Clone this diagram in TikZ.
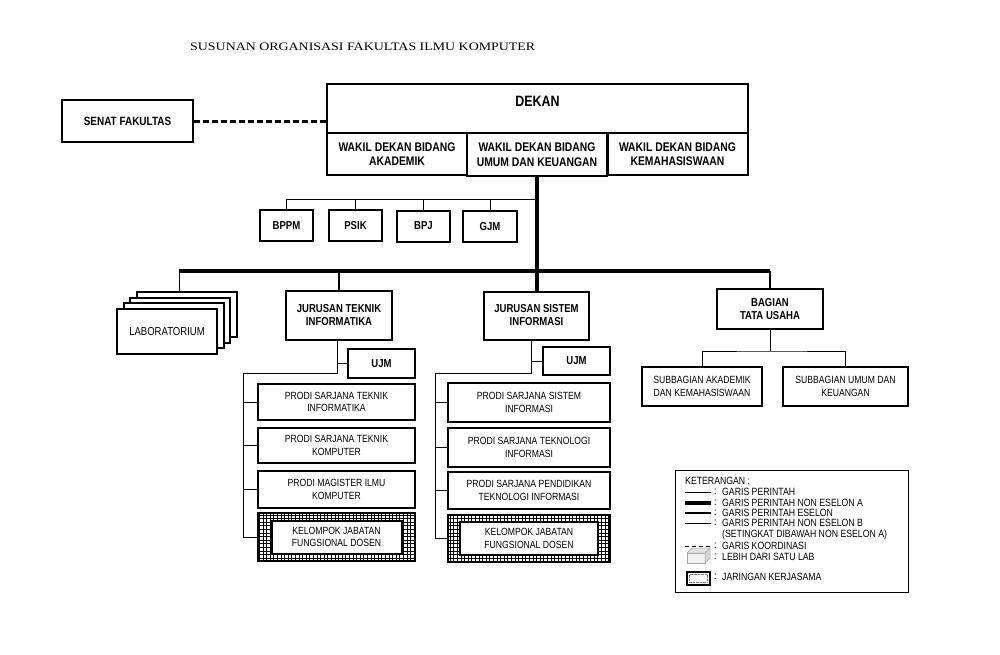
\documentclass[tikz,border=0pt]{standalone}
\usepackage{fontspec}
\setmainfont{Liberation Sans}
\newfontfamily\narrowsf{Liberation Sans}[FakeStretch=0.83]
\newfontfamily\judulfont{Liberation Serif}[FakeStretch=1.22]

\begin{document}
\begin{tikzpicture}[x=1pt,y=-1pt,
unit/.style={
	rectangle,draw=black,line width=2pt,fill=white,
	align=center,inner sep=1pt,
	font=\narrowsf\bfseries\fontsize{11.5}{13}\selectfont},
wakil/.style={unit,minimum width=140,minimum height=42,
	font=\narrowsf\bfseries\fontsize{12.5}{14.5}\selectfont},
staf/.style={unit,minimum width=53,minimum height=31},
prodi/.style={unit,font=\narrowsf\fontsize{10.4}{12.3}\selectfont},
labbox/.style={unit,minimum width=100,minimum height=45,
	font=\narrowsf\fontsize{11.5}{13}\selectfont},
jaringan/.style={rectangle,draw=black,line width=2pt},
perintah/.style={line width=0.9pt},
nonA/.style={line width=3.5pt},
eselon/.style={line width=2.8pt},
koord/.style={line width=3pt,dash pattern=on 6pt off 3pt},
legtext/.style={anchor=west,inner sep=0pt,font=\narrowsf\fontsize{10.5}{11}\selectfont}
]
\useasboundingbox (0,0) rectangle (1000,654);

% judul
\node[anchor=west,inner sep=0pt,font=\judulfont\fontsize{11.4}{13}\selectfont] (judul) at (190,47)
	{SUSUNAN ORGANISASI FAKULTAS ILMU KOMPUTER};

% pimpinan
\node[unit,minimum width=131,minimum height=42,font=\narrowsf\bfseries\fontsize{12}{14}\selectfont]
	(senat) at (127.5,121) {SENAT FAKULTAS};
\node[unit,minimum width=421,minimum height=49] (dekan) at (537.5,108.5) {};
\node[inner sep=0pt,font=\narrowsf\bfseries\fontsize{15}{16}\selectfont] (dekanlbl) at (537.5,101) {DEKAN};
\node[wakil] (wd1) at (397,154) {WAKIL DEKAN BIDANG\\AKADEMIK};
\node[wakil] (wd3) at (677.5,154) {WAKIL DEKAN BIDANG\\KEMAHASISWAAN};
\node[wakil,line width=2.5pt,minimum height=43] (wd2) at (537,154.5) {WAKIL DEKAN BIDANG\\UMUM DAN KEUANGAN};

% staf
\node[staf] (bppm) at (286.5,225.5) {BPPM};
\node[staf] (psik) at (355.5,225.5) {PSIK};
\node[staf] (bpj) at (423.5,226) {BPJ};
\node[staf,minimum width=54] (gjm) at (490,226.5) {GJM};

% laboratorium
\foreach \k in {3,2,1}
	\node[labbox] (lab\k) at ({167+6.5*\k},{331.5-5.7*\k}) {};
\node[labbox] (lab) at (167,331.5) {LABORATORIUM};

% jurusan
\node[unit,minimum width=106,minimum height=49] (jti) at (339,315.5) {JURUSAN TEKNIK\\INFORMATIKA};
\node[unit,minimum width=105,minimum height=48] (jsi) at (536.5,315.5) {JURUSAN SISTEM\\INFORMASI};
\node[unit,minimum width=106,minimum height=40] (btu) at (770,309) {BAGIAN\\TATA USAHA};

\node[unit,minimum width=67,minimum height=29] (ujm1) at (381.5,363.5) {UJM};
\node[unit,minimum width=67,minimum height=28] (ujm2) at (576.5,361) {UJM};

\node[prodi,minimum width=157,minimum height=36] (p1a) at (336.5,402) {PRODI SARJANA TEKNIK\\INFORMATIKA};
\node[prodi,minimum width=157,minimum height=35] (p1b) at (336.5,445.5) {PRODI SARJANA TEKNIK\\KOMPUTER};
\node[prodi,minimum width=157,minimum height=37] (p1c) at (336.5,489.5) {PRODI MAGISTER ILMU\\KOMPUTER};
\node[jaringan,minimum width=157,minimum height=48] (k1) at (336.5,537) {};
\begin{scope}
\clip (k1.north west) rectangle (k1.south east);
\draw[line width=0.35pt,step=3.6pt] (k1.north west) grid (k1.south east);
\end{scope}
\node[jaringan,minimum width=157,minimum height=48] (k1rim) at (k1) {};
\node[prodi,minimum width=130,minimum height=33] (k1in) at (k1) {KELOMPOK JABATAN\\FUNGSIONAL DOSEN};

\node[prodi,minimum width=162,minimum height=39] (p2a) at (529,402.5) {PRODI SARJANA SISTEM\\INFORMASI};
\node[prodi,minimum width=162,minimum height=39] (p2b) at (529,447.5) {PRODI SARJANA TEKNOLOGI\\INFORMASI};
\node[prodi,minimum width=162,minimum height=37] (p2c) at (529,490.5) {PRODI SARJANA PENDIDIKAN\\TEKNOLOGI INFORMASI};
\node[jaringan,minimum width=162,minimum height=47] (k2) at (529,538.5) {};
\begin{scope}
\clip (k2.north west) rectangle (k2.south east);
\draw[line width=0.35pt,step=3.6pt] (k2.north west) grid (k2.south east);
\end{scope}
\node[jaringan,minimum width=162,minimum height=47] (k2rim) at (k2) {};
\node[prodi,minimum width=138,minimum height=33] (k2in) at (k2) {KELOMPOK JABATAN\\FUNGSIONAL DOSEN};

\node[prodi,minimum width=120,minimum height=39] (sba) at (702,386.5) {SUBBAGIAN AKADEMIK\\DAN KEMAHASISWAAN};
\node[prodi,minimum width=125,minimum height=39] (sbu) at (845.5,386.5) {SUBBAGIAN UMUM DAN\\KEUANGAN};

% titik bantu garis
\coordinate (stafbus) at (537,199);
\coordinate (mainbus) at (537,271);
\coordinate (labtop) at (179,292);
\coordinate (jtispine) at (243,373);
\coordinate (jsispine) at (435,373);
\coordinate (tubus) at (770,351);

% garis
\draw[koord] (senat.east) -- (senat.east -| dekan.west);
\draw[nonA] (wd2.south) -- (wd2.south |- jsi.north);
\draw[perintah] (bppm.north) |- (stafbus);
\foreach \s in {psik,bpj,gjm}
	\draw[perintah] (\s.north) -- (\s.north |- stafbus);
\draw[nonA] (labtop |- mainbus) -- (btu.north |- mainbus);
\draw[perintah] (labtop) -- (labtop |- mainbus);
\draw[eselon] (jti.north |- mainbus) -- (jti.north);
\draw[eselon] (btu.north |- mainbus) -- (btu.north);

\draw[perintah] ([xshift=-2pt]jti.south) |- (ujm1.west);
\draw[perintah] ([xshift=-2pt]jti.south) |- (jtispine) -- (jtispine |- k1.west);
\foreach \p in {p1a,p1b,p1c,k1}
	\draw[perintah] (jtispine |- \p.west) -- (\p.west);

\draw[perintah] ([xshift=-5pt]jsi.south) |- (ujm2.west);
\draw[perintah] ([xshift=-5pt]jsi.south) |- (jsispine) -- (jsispine |- k2.west);
\foreach \p in {p2a,p2b,p2c,k2}
	\draw[perintah] (jsispine |- \p.west) -- (\p.west);

\draw[perintah] (btu.south) -- (tubus);
\draw[perintah] (sba.north) |- (tubus) -| (sbu.north);

% keterangan
\node[draw,line width=0.8pt,minimum width=233,minimum height=122,anchor=north west,inner sep=0pt] (ket) at (675,470) {};
\node[legtext] (kettitle) at (685,481) {KETERANGAN :};
\draw[perintah] (685,492) -- (711,492);
\draw[nonA] (685,503) -- (711,503);
\draw[eselon] (685,513) -- (711,513);
\draw[line width=0.6pt] (685,523) -- (711,523);
\draw[line width=1pt,dash pattern=on 4pt off 3pt] (685,546) -- (711,546);
\filldraw[fill=gray!12,draw=gray!70,line width=0.5pt] (687,553) rectangle (705,563);
\filldraw[fill=gray!22,draw=gray!70,line width=0.5pt] (687,553) -- (692,548) -- (710,548) -- (705,553) -- cycle;
\filldraw[fill=gray!32,draw=gray!70,line width=0.5pt] (705,553) -- (710,548) -- (710,558) -- (705,563) -- cycle;
\draw[line width=2pt] (687,572) rectangle (710,585);
\draw[gray,line width=0.4pt,densely dotted] (689.5,574.5) rectangle (707.5,582.5);
\foreach \y/\t in {492/GARIS PERINTAH,503/GARIS PERINTAH NON ESELON A,513/GARIS PERINTAH ESELON,
	523/GARIS PERINTAH NON ESELON B,546/GARIS KOORDINASI,557/LEBIH DARI SATU LAB,577/JARINGAN KERJASAMA}
	{\node[legtext] (ketc\y) at (714,\y) {:};
	\node[legtext] (ketx\y) at (722,\y) {\t};}
\node[legtext] (ketnote) at (722,535) {(SETINGKAT DIBAWAH NON ESELON A)};

\end{tikzpicture}
\end{document}
